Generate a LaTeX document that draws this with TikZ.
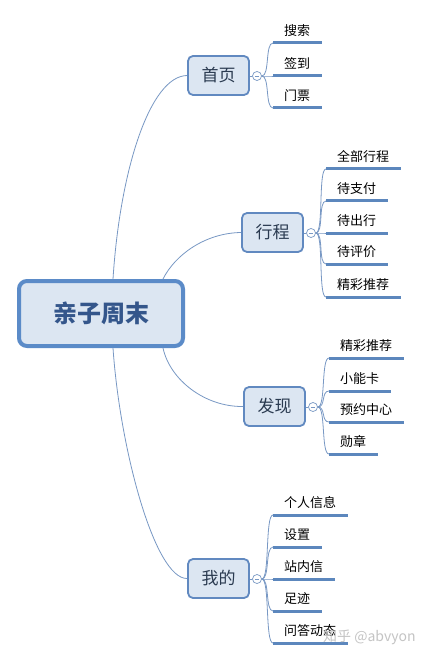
\documentclass[tikz,border=0pt]{standalone}
\usepackage{fontspec}
\newfontfamily\cjk{Noto Sans CJK SC}
\definecolor{rootc}{HTML}{5B8BC8}
\definecolor{boxfill}{HTML}{DCE6F2}
\definecolor{roottext}{HTML}{34568B}
\definecolor{topicc}{HTML}{6189C0}
\definecolor{topictext}{HTML}{2A3A50}
\definecolor{linec}{HTML}{7898C4}
\definecolor{ulc}{HTML}{5C87BD}
\definecolor{wmc}{HTML}{C4C4C4}
\begin{document}
\begin{tikzpicture}[x=1pt,y=-1pt,
  root/.style={draw=rootc, line width=4pt, fill=boxfill, rounded corners=8pt,
    minimum width=164pt, minimum height=65pt, inner sep=0pt,
    font=\cjk\bfseries\fontsize{24}{24}\selectfont, text=roottext},
  topic/.style={draw=topicc, line width=1.8pt, fill=boxfill, rounded corners=5pt,
    minimum width=61pt, minimum height=39pt, inner sep=0pt,
    font=\cjk\fontsize{17}{17}\selectfont, text=topictext},
  fold/.style={circle, draw=linec, line width=0.7pt, fill=white, minimum size=9pt, inner sep=0pt,
    path picture={\draw[linec, line width=0.7pt] ([xshift=-2.2pt]path picture bounding box.center) -- ([xshift=2.2pt]path picture bounding box.center);}},
  leaf/.style={anchor=south west, inner xsep=0pt, inner ysep=5pt, text height=11pt, text depth=2pt,
    font=\cjk\fontsize{13}{13}\selectfont, text=black},
  branch/.style={draw=linec, line width=0.8pt},
  uline/.style={draw=ulc, line width=3pt},
  wm/.style={font=\cjk\fontsize{14}{14}\selectfont, text=wmc, anchor=west, inner sep=0pt}
]
\useasboundingbox (0,0) rectangle (422,660);
\fill[white] (0,0) rectangle (422,660);

% root and topics
\node[root] (root) at (101,313.5) {亲子周末};
\node[topic] (t1) at (218.5,75.5) {首页};
\node[topic] (t2) at (272.5,232.5) {行程};
\node[topic] (t3) at (274.5,406.5) {发现};
\node[topic] (t4) at (218.5,578.5) {我的};

% main curves
\draw[branch] ([xshift=12pt]root.north) .. controls (120,170) and (150,76) .. (t1.west);
\draw[branch] ([xshift=62pt]root.north) .. controls (175,255) and (205,233) .. (t2.west);
\draw[branch] ([xshift=62pt]root.south) .. controls (170,380) and (205,407) .. (t3.west);
\draw[branch] ([xshift=12pt]root.south) .. controls (120,450) and (155,579) .. (t4.west);

% fold circles
\node[fold] (c1) at (257,76) {};
\node[fold] (c2) at (311,233) {};
\node[fold] (c3) at (313,407) {};
\node[fold] (c4) at (257,579) {};
\draw[branch] (t1.east |- c1) -- (c1.west);
\draw[branch] (t2.east |- c2) -- (c2.west);
\draw[branch] (t3.east |- c3) -- (c3.west);
\draw[branch] (t4.east |- c4) -- (c4.west);

% group 1
\node[leaf] (a1) at (284,43) {搜索};
\node[leaf] (a2) at (284,76) {签到};
\node[leaf] (a3) at (284,108) {门票};
% group 2
\node[leaf] (b1) at (337,169) {全部行程};
\node[leaf] (b2) at (337,201) {待支付};
\node[leaf] (b3) at (337,233) {待出行};
\node[leaf] (b4) at (337,264) {待评价};
\node[leaf] (b5) at (337,297) {精彩推荐};
% group 3
\node[leaf] (d1) at (340,358) {精彩推荐};
\node[leaf] (d2) at (340,391) {小能卡};
\node[leaf] (d3) at (340,422) {预约中心};
\node[leaf] (d4) at (340,454) {勋章};
% group 4
\node[leaf] (e1) at (284,515) {个人信息};
\node[leaf] (e2) at (284,547) {设置};
\node[leaf] (e3) at (284,579) {站内信};
\node[leaf] (e4) at (284,611) {足迹};
\node[leaf] (e5) at (284,643) {问答动态};

% branches and underlines
\foreach \c/\list in {c1/{a1,a2,a3}, c2/{b1,b2,b3,b4,b5}, c3/{d1,d2,d3,d4}, c4/{e1,e2,e3,e4,e5}}{
  \foreach \n in \list {
    \draw[branch] (\c.east) .. controls +(8,0) and +(-8,0) .. ([xshift=-11pt]\n.south west);
    \draw[uline] ([xshift=-11pt]\n.south west) -- ([xshift=12pt]\n.south east);
  }
}

% watermark
\node[wm] (wm) at (323,637) {知乎 @abvyon};
\end{tikzpicture}
\end{document}
